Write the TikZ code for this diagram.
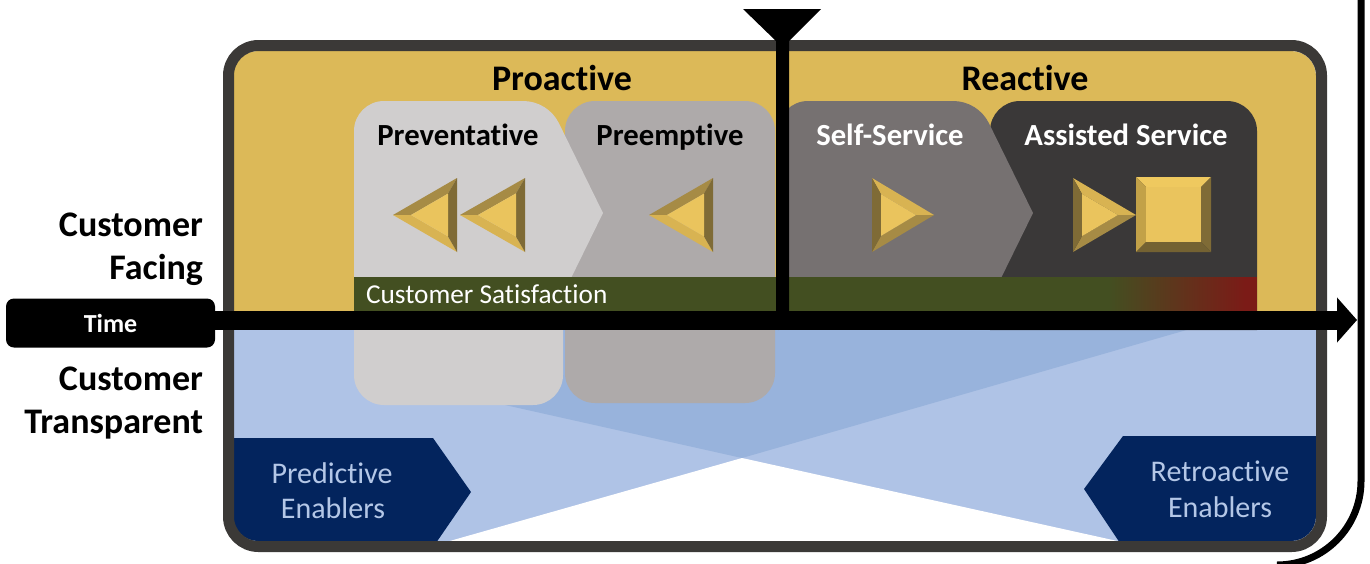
\documentclass[tikz,border=0pt]{standalone}
\usepackage{fontspec}
\setmainfont{Carlito}[Ligatures=NoCommon]
\usetikzlibrary{arrows.meta}

\definecolor{gold}{HTML}{DCB958}
\definecolor{framegray}{HTML}{3B3937}
\definecolor{lightpanel}{HTML}{D0CECE}
\definecolor{midpanel}{HTML}{AEAAAA}
\definecolor{darkpanel}{HTML}{767171}
\definecolor{darkestpanel}{HTML}{3A3838}
\definecolor{skyblue}{HTML}{AFC3E6}
\definecolor{overlapblue}{HTML}{98B3DC}
\definecolor{navy}{HTML}{03245D}
\definecolor{enablertext}{HTML}{B4C7E7}
\definecolor{satgreen}{HTML}{434F21}
\definecolor{satred}{HTML}{7B1B17}
\definecolor{bevface}{HTML}{EAC45D}
\definecolor{bevlight}{HTML}{EFC95F}
\definecolor{bevmidlight}{HTML}{D8B352}
\definecolor{bevmid}{HTML}{A68B45}
\definecolor{bevside}{HTML}{C2A148}
\definecolor{bevdark}{HTML}{7F6B36}
\definecolor{bevdarker}{HTML}{746232}

\tikzset{
  lbl/.style={inner sep=0pt, outer sep=0pt, anchor=base},
  bigbold/.style={font=\fontsize{36}{43}\selectfont\bfseries},
  paneltitle/.style={font=\fontsize{30.7}{36}\selectfont\bfseries},
  enabler/.style={font=\fontsize{30}{36}\selectfont, text=enablertext},
}

% bevelled icons, vertical centre at y=215, half height 37
\newcommand{\BevLeft}[2]{% #1 tip x, #2 base x
  \pgfmathsetmacro{\bvIt}{#1+18}
  \pgfmathsetmacro{\bvIb}{#2-9}
  \pgfmathsetmacro{\bvIh}{(\bvIb-\bvIt)*37/(#2-#1)}
  \fill[bevmid] (#1,215) -- (#2,178) -- (\bvIb,{215-\bvIh}) -- (\bvIt,215) -- cycle;
  \fill[bevmidlight] (#1,215) -- (#2,252) -- (\bvIb,{215+\bvIh}) -- (\bvIt,215) -- cycle;
  \fill[bevdark] (#2,178) -- (#2,252) -- (\bvIb,{215+\bvIh}) -- (\bvIb,{215-\bvIh}) -- cycle;
  \fill[bevface] (\bvIt,215) -- (\bvIb,{215-\bvIh}) -- (\bvIb,{215+\bvIh}) -- cycle;
}
\newcommand{\BevRight}[2]{% #1 base x, #2 tip x
  \pgfmathsetmacro{\bvIt}{#2-18}
  \pgfmathsetmacro{\bvIb}{#1+9}
  \pgfmathsetmacro{\bvIh}{(\bvIt-\bvIb)*37/(#2-#1)}
  \fill[bevmidlight] (#2,215) -- (#1,178) -- (\bvIb,{215-\bvIh}) -- (\bvIt,215) -- cycle;
  \fill[bevmid] (#2,215) -- (#1,252) -- (\bvIb,{215+\bvIh}) -- (\bvIt,215) -- cycle;
  \fill[bevdark] (#1,178) -- (#1,252) -- (\bvIb,{215+\bvIh}) -- (\bvIb,{215-\bvIh}) -- cycle;
  \fill[bevface] (\bvIt,215) -- (\bvIb,{215-\bvIh}) -- (\bvIb,{215+\bvIh}) -- cycle;
}
\newcommand{\BevSquare}[2]{% #1 left x, #2 right x
  \fill[bevlight] (#1,177) -- (#2,177) -- ({#2-10},187) -- ({#1+10},187) -- cycle;
  \fill[bevside] (#1,177) -- (#1,252) -- ({#1+10},242) -- ({#1+10},187) -- cycle;
  \fill[bevdark] (#2,177) -- (#2,252) -- ({#2-10},242) -- ({#2-10},187) -- cycle;
  \fill[bevdarker] (#1,252) -- (#2,252) -- ({#2-10},242) -- ({#1+10},242) -- cycle;
  \fill[bevface] ({#1+10},187) rectangle ({#2-10},242);
}

\begin{document}
\begin{tikzpicture}[x=1pt, y=-1pt]
\clip (0,0) rectangle (1370,563);

% ---------- inside of the frame ----------
\begin{scope}
  \clip[rounded corners=25] (233,51) rectangle (1316,541);
  \fill[gold] (220,40) rectangle (1330,330);
  \fill[skyblue] (220,320) rectangle (1330,560);
  % the two crossing bands below the time line
  \fill[white] (418,550) -- (742,458) -- (1158,550) -- cycle;
  \fill[overlapblue] (505,405) -- (742,458) -- (1190,329) -- (505,329) -- cycle;
  % enabler chevrons
  \fill[navy] (225,438) -- (433,438) -- (471,492) -- (434.6,545) -- (225,545) -- cycle;
  \fill[navy] (1325,436) -- (1123,436) -- (1084,489) -- (1121.3,545) -- (1325,545) -- cycle;

  % proactive panels
  \fill[midpanel, rounded corners=30] (565,101) rectangle (775,403);
  \fill[lightpanel, rounded corners=30] (354,200) rectangle (563,405);
  \fill[lightpanel] (354,330) -- (354,131) arc[start angle=180,end angle=270,radius=30]
     -- (523.1,101) arc[start angle=270,end angle=333.8,radius=40]
     -- (603,213) -- (548,325) -- cycle;

  % reactive panels
  \fill[darkestpanel] (990,330) -- (990,131) arc[start angle=180,end angle=270,radius=30]
     -- (1227,101) arc[start angle=270,end angle=360,radius=30] -- (1257,330) -- cycle;
  \fill[darkpanel] (778,330) -- (778,131) arc[start angle=180,end angle=270,radius=30]
     -- (953.1,101) arc[start angle=270,end angle=333.8,radius=40]
     -- (1033,213) -- (978,325) -- cycle;

  % satisfaction bar
  \fill[satgreen] (354,277) rectangle (1257,311);
  \shade[left color=satgreen, right color=satred] (1108,277) rectangle (1245,311);
  \fill[satred] (1244.5,277) rectangle (1257,311);

  % icons
  \BevLeft{393}{457}
  \BevLeft{460}{525}
  \BevLeft{649}{713}
  \BevRight{872}{934}
  \BevRight{1073}{1136}
  \BevSquare{1136}{1211}
\end{scope}

% frame
\draw[framegray, line width=11pt, rounded corners=30] (228.5,45.5) rectangle (1321.5,546.5);

% panel and band texts
\node[lbl, bigbold] (proactive) at (562,90) {Proactive};
\node[lbl, bigbold] (reactive) at (1025,90) {Reactive};
\node[lbl, paneltitle] (preventative) at (458,145) {Preventative};
\node[lbl, paneltitle] (preemptive) at (670,145) {Preemptive};
\node[lbl, paneltitle, text=white] (selfservice) at (890,145) {Self-Service};
\node[lbl, paneltitle, text=white] (assisted) at (1126,145) {Assisted Service};
\node[lbl, anchor=base west, text=white, font=\fontsize{27.3}{32}\selectfont] (satisfaction) at (366,303) {Customer Satisfaction};
\node[lbl, enabler] (predictive1) at (332,483) {Predictive};
\node[lbl, enabler] (predictive2) at (333,518) {Enablers};
\node[lbl, enabler] (retro1) at (1220,481) {Retroactive};
\node[lbl, enabler] (retro2) at (1220,517) {Enablers};

% side labels
\node[lbl, bigbold, anchor=base east] (facing1) at (203,236) {Customer};
\node[lbl, bigbold, anchor=base east] (facing2) at (203,279) {Facing};
\node[lbl, bigbold, anchor=base east] (transp1) at (203,390) {Customer};
\node[lbl, bigbold, anchor=base east] (transp2) at (203,433) {Transparent};

% time axis
\node[fill=black, rounded corners=8pt, minimum width=209pt, minimum height=49pt, inner sep=0pt,
      text=white, font=\fontsize{26}{31}\selectfont\bfseries] (timebox) at (110.5,323) {Time};
\coordinate (timestart) at (205,320);
\coordinate (timeend) at (1357,320);
\draw[line width=19pt, -{Triangle[length=20pt,width=44pt]}] (timestart) -- (timeend);

% now marker
\fill (743,9) -- (821,9) -- (789,41) -- (789,320) -- (776,320) -- (776,41) -- cycle;

% outer edge on the right
\draw[line width=7pt] (1361,-5) -- (1361,481) arc[start angle=0,end angle=90,radius=84];
\end{tikzpicture}
\end{document}
